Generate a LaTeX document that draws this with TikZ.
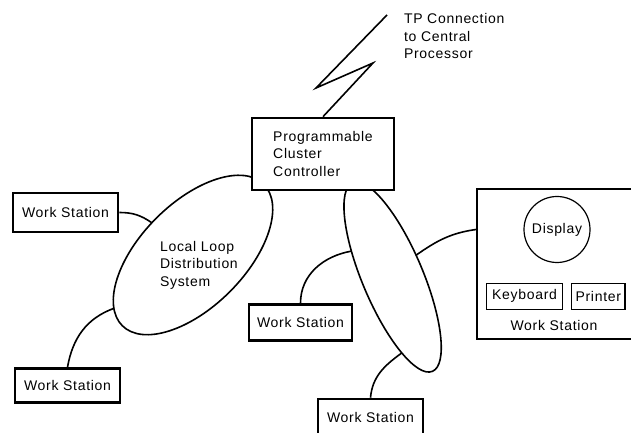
\documentclass[tikz,border=0pt]{standalone}
\usepackage{fontspec}
\setmainfont{Liberation Sans}[LetterSpace=5]
\usetikzlibrary{shapes.geometric}

\begin{document}
\begin{tikzpicture}[x=0.5pt,y=0.5pt,
		font=\fontsize{7}{8.75}\selectfont,
		wsbox/.style={draw,line width=1.3pt,fill=white,inner sep=0pt,minimum width=52.5pt},
		loopshape/.style={draw,ellipse,line width=0.8pt,inner sep=0pt,outer sep=0pt},
		unitbox/.style={draw,line width=0.6pt,inner sep=0pt,minimum height=13pt},
		cable/.style={line width=0.8pt}]
		\useasboundingbox (0,0) rectangle (631,433);
		% distribution loops
		\node[loopshape,minimum width=100pt,minimum height=52pt,rotate=45] (lloop) at (193,178) {};
		\node[align=left,anchor=west] (lloopText) at (153,168) {Local Loop\\Distribution\\System};
		\node[loopshape,minimum width=102.4pt,minimum height=30.3pt,rotate=-67.1] (rloop) at (392.6,156) {};
		% controller and TP line
		\node[draw,fill=white,line width=1.3pt,minimum width=71pt,minimum height=36pt,align=left] (pcc) at (323,279) {Programmable\\Cluster\\Controller};
		\coordinate (zigA) at (373,370);
		\coordinate (zigB) at (316,345);
		\coordinate (tpEnd) at (387,418);
		\draw[cable] (pcc.north) -- (zigA) -- (zigB) -- (tpEnd);
		\node[align=left,anchor=west] (tpText) at (397,396.5) {TP Connection\\to Central\\Processor};
		% work stations
		\node[wsbox,minimum height=19.5pt] (wsA) at (65.5,220.5) {Work Station};
		\node[wsbox,minimum height=17pt] (wsB) at (67.5,47.5) {Work Station};
		\node[wsbox,minimum width=51.5pt,minimum height=18pt] (wsC) at (300.5,110.5) {Work Station};
		\node[wsbox,minimum height=18.5pt] (wsD) at (370.5,15.5) {Work Station};
		\node[draw,line width=1pt,minimum width=77.5pt,minimum height=75pt] (wsE) at (554.5,169) {};
		\node[draw,circle,line width=0.6pt,minimum size=33pt,inner sep=0pt] (disp) at (557,203.5) {Display};
		\node[unitbox,minimum width=37.8pt] (kbd) at (524.5,136.7) {Keyboard};
		\node[unitbox,minimum width=26.7pt] (prt) at (598.3,136.7) {Printer};
		\node (wsEText) at (554,108) {Work Station};
		% connections
		\draw[cable] (wsA.east) to[out=0,in=145] (lloop.97);
		\draw[cable] (wsB.north) to[out=80,in=200] (lloop.169);
		\draw[cable] (wsC.north) to[out=90,in=190] (rloop.215);
		\draw[cable] (rloop.110) to[out=35,in=188] (wsE.west |- disp.center);
		\draw[cable] (wsD.north) to[out=85,in=216] (rloop.-16);
	\end{tikzpicture}
\end{document}
